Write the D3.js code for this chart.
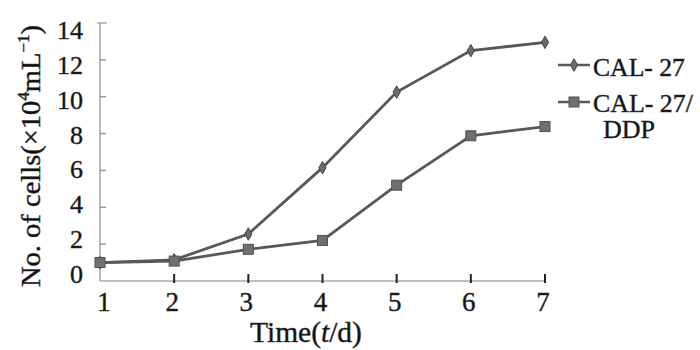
<!DOCTYPE html>
<html><head><meta charset="utf-8">
<script src="https://cdn.jsdelivr.net/npm/d3@7"></script>
<style>body{margin:0;background:#fff}svg{display:block}</style>
</head><body>
<script>
const days = [1, 2, 3, 4, 5, 6, 7];
const cal27 = [1.0, 1.15, 2.55, 6.15, 10.25, 12.5, 12.95];
const cal27ddp = [1.0, 1.08, 1.72, 2.2, 5.2, 7.88, 8.38];
const yTicks = [0, 2, 4, 6, 8, 10, 12, 14];
const xTicks = [1, 2, 3, 4, 5, 6, 7];
const seriesNames = ["CAL- 27", "CAL- 27/", "DDP"];

const W = 700, H = 350;
const svg = d3.select("body").append("svg").attr("width", W).attr("height", H);
const FF = "Liberation Serif";

function txt(parent, size) {
  return parent.append("text").style("font-family", FF).style("font-size", size + "px")
    .style("fill", "#111").style("stroke", "#333").style("stroke-width", "0.45px");
}

const x = d3.scaleLinear().domain([1, 7]).range([100, 545]);
const y = d3.scaleLinear().domain([0, 14]).range([281, 23]);
const yLab = d3.scaleLinear().domain([0, 14]).range([283, 39]);

function fitX(sel, w, ax) {
  const len = sel.node().getComputedTextLength();
  const s = w / len;
  sel.attr("transform", `translate(${ax},0) scale(${s},1) translate(${-ax},0)`);
}

// y axis
svg.append("line").attr("x1", 100).attr("x2", 100).attr("y1", y(14)).attr("y2", y(0))
  .attr("stroke", "#b8b8b8").attr("stroke-width", 2);
svg.append("line").attr("x1", 97).attr("x2", 107).attr("y1", y(14)).attr("y2", y(14))
  .attr("stroke", "#aaa").attr("stroke-width", 1.5);
svg.selectAll(".ytick").data(yTicks.filter(d => d > 0 && d < 14)).enter().append("line")
  .attr("x1", 100).attr("x2", 106).attr("y1", d => y(d)).attr("y2", d => y(d))
  .attr("stroke", "#999").attr("stroke-width", 1.5);
yTicks.forEach(d => {
  txt(svg, 26).attr("x", 83).attr("y", yLab(d)).attr("text-anchor", "end").text(d);
});

// x axis
svg.append("line").attr("x1", x(1)).attr("x2", x(7)).attr("y1", 281).attr("y2", 281)
  .attr("stroke", "#aaa").attr("stroke-width", 1.5);
svg.selectAll(".xtick").data(xTicks.filter(d => d > 1)).enter().append("line")
  .attr("x1", d => x(d)).attr("x2", d => x(d)).attr("y1", 274).attr("y2", 283)
  .attr("stroke", "#222").attr("stroke-width", 2);
xTicks.forEach(d => {
  txt(svg, 27).attr("x", x(d) + (d === 1 ? 4 : -2)).attr("y", 311)
    .attr("text-anchor", "middle").text(d);
});

// x title
const xt = txt(svg, 30).attr("x", 250).attr("y", 342);
xt.append("tspan").text("Time(");
xt.append("tspan").style("font-style", "italic").text("t");
xt.append("tspan").text("/d)");
fitX(xt, 112, 250);

// y title
const yg = svg.append("g").attr("transform", "translate(40,287) rotate(-90)");
const yt = txt(yg, 27).attr("x", 0).attr("y", 0);
yt.append("tspan").text("No. of cells(×10");
yt.append("tspan").style("font-size", "16px").attr("dy", -11).text("4");
yt.append("tspan").attr("dy", 11).text("mL");
yt.append("tspan").style("font-size", "16px").attr("dy", -11).text("−1");
yt.append("tspan").attr("dy", 11).text(")");
fitX(yt, 262, 0);

// lines
const line = d3.line().x((d, i) => x(days[i])).y(d => y(d));
const col = "#585858";
svg.append("path").datum(cal27ddp).attr("d", line).attr("fill", "none")
  .attr("stroke", col).attr("stroke-width", 2.8);
svg.append("path").datum(cal27).attr("d", line).attr("fill", "none")
  .attr("stroke", col).attr("stroke-width", 2.8);

const diamond = d3.symbol().type(d3.symbolDiamond).size(45);
svg.selectAll(".dm").data(cal27).enter().append("path")
  .attr("d", diamond).attr("transform", (d, i) => `translate(${x(days[i])},${y(d)})`)
  .attr("fill", "#6a6a6a").attr("stroke", "#444").attr("stroke-width", 1);
svg.selectAll(".sq").data(cal27ddp).enter().append("rect")
  .attr("x", (d, i) => x(days[i]) - 5).attr("y", d => y(d) - 5)
  .attr("width", 10).attr("height", 10)
  .attr("fill", "#707070").attr("stroke", "#505050").attr("stroke-width", 1);

// legend
svg.append("line").attr("x1", 558).attr("x2", 590).attr("y1", 65).attr("y2", 65)
  .attr("stroke", col).attr("stroke-width", 2.5);
svg.append("path").attr("d", diamond).attr("transform", "translate(574,65)")
  .attr("fill", "#6a6a6a").attr("stroke", "#444");
svg.append("line").attr("x1", 558).attr("x2", 590).attr("y1", 102).attr("y2", 102)
  .attr("stroke", col).attr("stroke-width", 2.5);
svg.append("rect").attr("x", 569).attr("y", 97).attr("width", 10).attr("height", 10)
  .attr("fill", "#707070").attr("stroke", "#505050");

const l1 = txt(svg, 25).attr("x", 593).attr("y", 76).text(seriesNames[0]);
fitX(l1, 92, 593);
const l2 = txt(svg, 25).attr("x", 593).attr("y", 112).text(seriesNames[1]);
fitX(l2, 100, 593);
const l3 = txt(svg, 25).attr("x", 603).attr("y", 138).text(seriesNames[2]);
fitX(l3, 52, 603);
</script>
</body></html>
